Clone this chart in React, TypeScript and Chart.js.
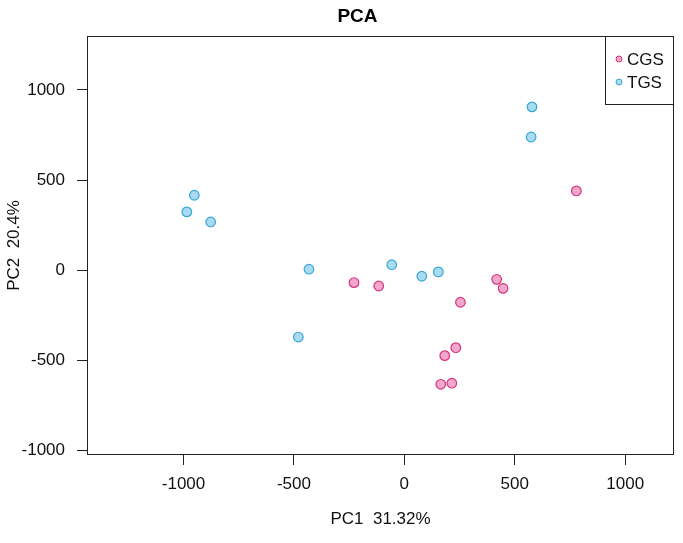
import React, { useEffect, useRef } from "react";
import { Chart, registerables } from "chart.js";

Chart.register(...registerables);

const seriesNames = ["CGS", "TGS"];
const cgsX = [-228, -116, 418, 447, 254, 233, 183, 165, 215, 779];
const cgsY = [-68, -87, -50, -100, -177, -429, -473, -632, -626, 440];
const tgsX = [-951, -985, -877, -432, -480, -57, 79, 154, 578, 574];
const tgsY = [416, 324, 268, 6, -370, 31, -33, -9, 906, 739];
const xTickValues = [-1000, -500, 0, 500, 1000];
const yTickValues = [-1000, -500, 0, 500, 1000];
const titleText = "PCA";
const xTitleText = "PC1  31.32%";
const yTitleText = "PC2  20.4%";

const FONT = '"Liberation Sans", Arial, sans-serif';

const framePlugin = {
  id: "frame",
  afterDatasetsDraw(chart: any) {
    const { ctx, chartArea: a } = chart;
    ctx.save();
    ctx.strokeStyle = "#222";
    ctx.lineWidth = 1;
    ctx.strokeRect(a.left + 0.5, a.top + 0.5, a.right - a.left - 1, a.bottom - a.top - 1);
    // legend box
    const lw = 69;
    const lh = 68;
    const lx = a.right - lw;
    const ly = a.top;
    ctx.fillStyle = "#fff";
    ctx.fillRect(lx + 0.5, ly + 0.5, lw - 1, lh);
    ctx.strokeRect(lx + 0.5, ly + 0.5, lw - 1, lh);
    chart.data.datasets.forEach((ds: any, i: number) => {
      const cy = ly + 23 + i * 23;
      ctx.beginPath();
      ctx.arc(lx + 14, cy, 3, 0, Math.PI * 2);
      ctx.fillStyle = ds.backgroundColor;
      ctx.fill();
      ctx.lineWidth = 1;
      ctx.strokeStyle = ds.borderColor;
      ctx.stroke();
      ctx.fillStyle = "#111";
      ctx.font = `17px ${FONT}`;
      ctx.textAlign = "left";
      ctx.textBaseline = "middle";
      ctx.fillText(ds.label, lx + 22, cy + 1);
    });
    // main title
    ctx.fillStyle = "#000";
    ctx.font = `bold 19px ${FONT}`;
    ctx.textAlign = "center";
    ctx.textBaseline = "middle";
    ctx.fillText(titleText, (a.left + a.right) / 2 - 23, 17);
    ctx.restore();
  },
};

export default function App() {
  const ref = useRef<HTMLCanvasElement | null>(null);
  useEffect(() => {
    if (!ref.current) return;
    const chart = new Chart(ref.current, {
      type: "scatter",
      data: {
        datasets: [
          {
            label: seriesNames[0],
            data: cgsX.map((x, i) => ({ x, y: cgsY[i] })),
            backgroundColor: "#f2a7cc",
            borderColor: "#d6337e",
            borderWidth: 1.2,
            pointRadius: 4.8,
          },
          {
            label: seriesNames[1],
            data: tgsX.map((x, i) => ({ x, y: tgsY[i] })),
            backgroundColor: "#a8dbf0",
            borderColor: "#37a6d6",
            borderWidth: 1.2,
            pointRadius: 4.8,
          },
        ],
      },
      options: {
        responsive: false,
        animation: false,
        layout: { padding: { top: 36, right: 9, left: 0, bottom: 0 } },
        plugins: {
          legend: { display: false },
          title: { display: false },
          tooltip: { enabled: false },
        },
        scales: {
          x: {
            type: "linear",
            min: -1437,
            max: 1221,
            afterBuildTicks: (s: any) => {
              s.ticks = xTickValues.map((v) => ({ value: v }));
            },
            afterFit: (s: any) => {
              s.height = 88;
            },
            grid: { drawOnChartArea: false, tickLength: 10, color: "#222", lineWidth: 1 },
            border: { display: false },
            ticks: {
              padding: 9,
              color: "#111",
              font: { family: FONT, size: 17 },
              maxRotation: 0,
              callback: (v: any) => String(v),
            },
            title: {
              display: true,
              text: xTitleText,
              color: "#111",
              font: { family: FONT, size: 17 },
              padding: { top: 0, bottom: 13 },
            },
          },
          y: {
            type: "linear",
            min: -1024,
            max: 1299,
            afterBuildTicks: (s: any) => {
              s.ticks = yTickValues.map((v) => ({ value: v }));
            },
            afterFit: (s: any) => {
              s.width = 87;
            },
            grid: { drawOnChartArea: false, tickLength: 10, color: "#222", lineWidth: 1 },
            border: { display: false },
            ticks: {
              padding: 12,
              color: "#111",
              font: { family: FONT, size: 17 },
              callback: (v: any) => String(v),
            },
            title: {
              display: true,
              text: yTitleText,
              color: "#111",
              font: { family: FONT, size: 17 },
              padding: { top: 4, bottom: 0 },
            },
          },
        },
      },
      plugins: [framePlugin],
    });
    return () => chart.destroy();
  }, []);
  return (
    <div style={{ position: "absolute", left: 0, top: 0, width: 683, height: 543, background: "#fff" }}>
      <canvas ref={ref} width={683} height={543} />
    </div>
  );
}
